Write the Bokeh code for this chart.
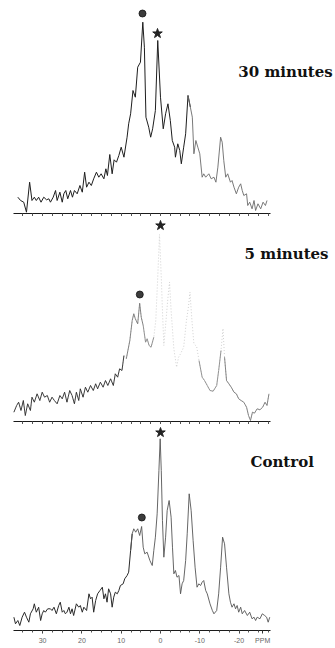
import numpy as np
from bokeh.plotting import figure
from bokeh.layouts import column
from bokeh.models import Range1d, FixedTicker
from bokeh.core.properties import value
from bokeh.embed import file_html
from bokeh.resources import INLINE

# ---------------- data ----------------
ppm_30 = [36.3, 35.6, 34.8, 34.1, 33.3, 32.7, 32.1, 31.6, 31.0, 30.4, 29.7, 29.0, 28.4, 28.0, 27.3,
          26.7, 26.3, 25.6, 25.0, 24.6, 24.1, 23.6, 22.9, 22.4, 21.9, 21.2, 20.5, 19.9, 19.3, 18.8,
          18.2, 17.6, 17.0, 16.3, 15.7, 15.1, 14.4, 13.9, 13.5, 12.9, 12.3, 11.8, 11.2, 10.6, 10.0,
          9.3, 8.5, 8.1, 7.6, 7.0, 6.4, 5.8, 5.1, 4.5, 4.1, 3.7, 3.0, 2.5, 2.0, 1.3,
          0.7, 0.0, -0.7, -1.3, -1.9, -2.5, -3.0, -3.6, -3.8, -4.4, -4.9, -5.3, -5.9, -6.4, -7.0,
          -7.6, -8.1, -8.5, -9.0, -9.5, -10.0, -10.6, -11.0, -11.5, -12.3, -12.9, -13.6, -14.1, -14.6, -15.3,
          -15.7, -16.1, -16.6, -17.1, -17.8, -18.2, -18.7, -19.3, -19.9, -20.4, -20.8, -21.2, -21.9, -22.2, -22.7,
          -23.3, -23.8, -24.2, -24.8, -25.5, -26.1, -26.7, -27.1]
int_30 = [16.3, 13.0, 11.3, 1.3, 31.3, 13.0, 16.3, 13.0, 16.3, 11.3, 16.3, 13.7, 14.7, 11.3, 16.3,
          23.0, 13.0, 21.3, 11.3, 19.7, 23.0, 14.7, 23.0, 16.3, 23.0, 19.7, 28.0, 21.3, 41.3, 26.3,
          31.3, 28.0, 34.7, 41.3, 36.3, 39.7, 34.7, 44.7, 38.0, 59.0, 39.7, 53.7, 51.3, 58.0, 66.3,
          56.3, 76.3, 89.7, 99.7, 123.0, 116.3, 146.3, 151.3, 191.3, 166.3, 96.3, 86.3, 76.3, 84.7, 103.0,
          173.0, 116.3, 84.7, 99.7, 109.7, 93.0, 73.0, 66.3, 56.3, 69.7, 63.0, 49.7, 66.3, 79.7, 118.0,
          106.3, 96.3, 59.7, 73.0, 66.3, 59.7, 36.3, 39.7, 36.3, 39.7, 34.7, 36.3, 31.3, 46.3, 76.3,
          71.3, 53.0, 36.3, 39.7, 31.3, 33.0, 26.3, 19.7, 26.3, 29.7, 23.0, 18.0, 19.7, 8.0, 11.3,
          4.7, 13.0, 3.0, 9.7, 4.7, 11.3, 8.0, 13.0]

ppm_5 = [37.3, 36.6, 36.1, 35.5, 34.9, 34.4, 33.8, 33.1, 32.7, 32.1, 31.4, 30.7, 30.1, 29.5, 28.8,
         28.2, 27.6, 27.0, 26.3, 25.6, 25.0, 24.4, 23.8, 23.1, 22.5, 21.9, 21.4, 20.8, 20.4, 19.7,
         19.1, 18.5, 17.8, 17.1, 16.5, 16.0, 15.3, 14.6, 14.0, 13.4, 12.7, 12.0, 11.5, 10.9, 10.4,
         9.8, 9.3, 8.7, 7.8, 7.2, 6.8, 6.4, 5.8, 5.3, 4.9, 4.4, 3.8, 3.4, 2.9, 2.4,
         1.7, 1.2, 0.7, 0.25, -0.2, -0.5, -0.85, -1.4, -1.9, -2.3, -2.7, -3.4, -4.1, -4.6, -5.1,
         -5.9, -6.6, -7.1, -7.5, -8.0, -8.5, -9.2, -9.8, -10.6, -11.2, -11.9, -12.6, -13.4, -14.3, -14.8,
         -15.4, -15.9, -16.3, -16.8, -17.4, -18.0, -18.7, -19.3, -19.9, -20.5, -21.2, -21.9, -22.4, -22.9, -23.4,
         -23.9, -24.6, -25.3, -26.0, -26.6, -27.1, -27.6]
int_5 = [9.3, 16.0, 19.3, 11.0, 21.0, 6.0, 17.7, 11.0, 24.3, 19.3, 27.7, 21.0, 29.3, 24.3, 26.0,
         19.3, 24.3, 21.0, 17.7, 26.0, 22.7, 29.3, 19.3, 31.0, 26.0, 17.7, 29.3, 21.0, 32.7, 24.3,
         34.3, 29.3, 36.0, 31.0, 37.7, 32.7, 39.3, 34.3, 41.0, 36.0, 42.7, 36.0, 47.7, 44.3, 52.7,
         51.0, 66.0, 62.7, 81.0, 101.0, 107.7, 102.7, 97.7, 118.3, 104.3, 96.0, 79.3, 82.7, 76.0, 74.3,
         84.3, 101.0, 144.3, 187.0, 144.3, 111.0, 76.0, 101.0, 124.3, 139.3, 111.0, 72.7, 54.3, 64.3, 67.7,
         74.3, 101.0, 114.3, 129.3, 101.0, 77.7, 75.0, 61.0, 44.3, 41.0, 36.0, 31.0, 30.3, 36.0, 51.0,
         71.0, 93.0, 64.3, 41.0, 37.7, 34.3, 29.3, 27.7, 22.7, 21.0, 19.3, 14.3, 6.0, 1.0, 9.3,
         8.3, 12.7, 11.7, 14.3, 19.3, 16.0, 27.7]

ppm_ctrl = [37.3, 36.9, 36.3, 35.8, 35.2, 34.6, 34.1, 33.5, 33.1, 32.4, 32.1, 31.6, 31.0, 30.5, 30.1,
            29.7, 29.3, 28.7, 28.0, 27.6, 27.1, 26.5, 25.9, 25.5, 25.0, 24.6, 24.2, 23.8, 23.3, 22.9,
            22.5, 22.1, 21.4, 20.8, 20.4, 19.9, 19.5, 18.8, 18.2, 17.8, 17.4, 17.0, 16.5, 16.0, 15.4,
            14.8, 14.4, 14.0, 13.6, 13.2, 12.7, 12.3, 11.9, 11.5, 11.0, 10.6, 10.2, 9.5, 9.1, 8.5,
            8.1, 7.6, 7.2, 6.8, 6.3, 5.8, 5.3, 4.8, 4.4, 4.0, 3.4, 2.7, 2.1, 1.7, 1.3,
            0.85, 0.4, 0.08, -0.2, -0.5, -0.85, -1.3, -1.7, -2.2, -2.7, -3.05, -3.4, -3.8, -4.2, -4.7,
            -5.1, -5.5, -5.9, -6.4, -6.8, -7.3, -7.8, -8.3, -8.8, -9.3, -9.75, -10.2, -10.6, -11.0, -11.5,
            -11.9, -12.6, -13.2, -13.6, -14.3, -14.8, -15.3, -15.8, -16.3, -16.8, -17.4, -17.8, -18.2, -18.7, -19.1,
            -19.5, -19.9, -20.4, -20.8, -21.4, -22.1, -22.7, -23.3, -23.8, -24.2, -24.6, -25.3, -25.9, -26.5, -27.0,
            -27.4, -27.8]
int_ctrl = [13.3, 6.7, 10.0, 5.0, 13.3, 18.3, 13.3, 8.3, 16.7, 21.7, 26.7, 18.3, 23.3, 10.0, 16.7,
            20.0, 18.3, 21.7, 21.7, 20.0, 23.3, 16.7, 25.0, 28.3, 18.3, 20.0, 16.7, 18.3, 23.3, 16.7,
            21.7, 15.0, 26.7, 23.3, 25.0, 18.3, 23.3, 20.0, 36.7, 31.7, 33.3, 18.3, 30.0, 36.7, 40.0,
            43.3, 31.7, 36.7, 28.3, 41.7, 36.7, 23.3, 33.3, 38.3, 36.7, 40.0, 45.0, 46.7, 51.7, 55.0,
            58.3, 80.0, 96.7, 101.7, 98.3, 101.7, 95.0, 104.0, 83.3, 76.7, 78.3, 70.0, 65.0, 80.0, 93.3,
            116.7, 160.0, 191.7, 160.0, 110.0, 73.3, 93.3, 120.0, 130.0, 113.3, 83.3, 56.7, 60.0, 53.3, 55.0,
            36.7, 46.7, 50.0, 70.0, 96.7, 136.7, 120.0, 90.0, 63.3, 43.3, 46.7, 45.0, 48.3, 50.0, 40.0,
            36.7, 26.7, 20.0, 16.7, 20.0, 36.7, 63.3, 93.3, 86.7, 63.3, 36.7, 28.3, 23.3, 26.7, 21.7,
            25.0, 18.3, 23.3, 16.7, 20.0, 15.0, 18.3, 11.7, 13.3, 10.0, 13.3, 11.7, 16.7, 15.0, 13.3,
            8.3, 13.3]

panel_labels = ["30 minutes", "5 minutes", "Control"]
label_ppm = [-19.8, -21.4, -22.9]
label_int = [142, 168, 169]
circle_ppm = [4.58, 5.27, 4.75]
circle_int = [200, 127, 113]
star_ppm = [0.76, 0.0, 0.0]
star_int = [180, 196, 198]
tick_values = [30, 20, 10, 0, -10, -20]
tick_text = ["30", "20", "10", "0", "-10", "-20"]
unit_text = "PPM"
unit_ppm = -26.0

# ---------------- figure helpers ----------------
X_LEFT, X_RIGHT = 40.71, -44.53
AXIS_BOUNDS = (37.4, -28.0)
SERIF = value("DejaVu Serif")

minor_ticks = []
for v in tick_values + [40]:
    for k in (1, 2, 3, 4):
        t = v - 2.5 * k
        if AXIS_BOUNDS[1] <= t <= AXIS_BOUNDS[0]:
            minor_ticks.append(t)


def seg(x, y, hi, lo):
    x = np.asarray(x, float)
    y = np.asarray(y, float)
    idx = np.where((x <= hi) & (x >= lo))[0]
    if len(idx) == 0:
        return x[:0], y[:0]
    a = max(idx[0] - 1, 0)
    b = min(idx[-1] + 2, len(x))
    return x[a:b], y[a:b]


def make_panel(frame_h, bottom, show_labels):
    p = figure(width=335, height=frame_h + bottom, output_backend="svg", toolbar_location=None,
               x_range=Range1d(X_LEFT, X_RIGHT), y_range=Range1d(0, frame_h),
               min_border_left=0, min_border_right=0, min_border_top=0,
               min_border_bottom=bottom)
    p.outline_line_color = None
    p.background_fill_color = "white"
    p.border_fill_color = "white"
    p.grid.visible = False
    p.yaxis.visible = False
    ax = p.xaxis[0]
    ax.bounds = AXIS_BOUNDS
    ax.axis_line_color = "#1a1a1a"
    ax.axis_line_width = 1.2
    ax.major_tick_line_color = "#333333"
    ax.minor_tick_line_color = "#555555"
    ax.major_tick_in = 0
    ax.major_tick_out = 3
    ax.minor_tick_in = 0
    ax.minor_tick_out = 2
    if show_labels:
        ax.ticker = FixedTicker(ticks=tick_values + [unit_ppm], minor_ticks=minor_ticks)
        labels = {v: t for v, t in zip(tick_values, tick_text)}
        labels[unit_ppm] = unit_text
        ax.major_label_overrides = labels
        ax.major_label_text_font_size = "7px"
        ax.major_label_text_color = "#666666"
        ax.major_label_standoff = 3
    else:
        # no tick labels on the upper spectra: all marks drawn as plain ticks
        ax.ticker = FixedTicker(ticks=[], minor_ticks=tick_values + minor_ticks)
        ax.minor_tick_out = 3
    return p


def decorate(p, i):
    p.scatter([circle_ppm[i]], [circle_int[i]], marker="circle", size=7,
              fill_color="#3c3c3c", line_color="#111111", line_width=0.8)
    p.scatter([star_ppm[i]], [star_int[i]], marker="star", size=10,
              fill_color="#222222", line_color="#222222")
    p.text([label_ppm[i]], [label_int[i]], text=[panel_labels[i]], text_font=SERIF,
           text_font_style="bold", text_font_size="15px", text_color="#111111",
           text_align="left", text_baseline="middle")


# ---- 30 minutes ----
p1 = make_panel(213, 3, False)
x, y = seg(ppm_30, int_30, 99, -7.4)
p1.line(x, y, line_color="#1e1e1e", line_width=1.0)
x, y = seg(ppm_30, int_30, -7.5, -99)
p1.line(x, y, line_color="#6a6a6a", line_width=0.9)
decorate(p1, 0)

# ---- 5 minutes ----
p2 = make_panel(205, 3, False)
p2.line(ppm_5, int_5, line_color="#c4c4c4", line_width=0.8, line_dash="1 2")
for hi, lo, col in [(99, 9.8, "#2a2a2a"), (7.9, 4.5, "#777777"), (3.8, 2.4, "#888888"),
                    (-10.5, -14.9, "#8a8a8a"), (-16.7, -99, "#777777")]:
    x, y = seg(ppm_5, int_5, hi, lo)
    p2.line(x, y, line_color=col, line_width=0.9)
decorate(p2, 1)

# ---- Control ----
p3 = make_panel(206, 16, True)
x, y = seg(ppm_ctrl, int_ctrl, 99, 7.6)
p3.line(x, y, line_color="#2a2a2a", line_width=1.0)
x, y = seg(ppm_ctrl, int_ctrl, 7.5, -99)
p3.line(x, y, line_color="#555555", line_width=0.9)
decorate(p3, 2)

layout = column(p1, p2, p3, spacing=0)
open("out.html", "w").write(file_html(layout, INLINE))
